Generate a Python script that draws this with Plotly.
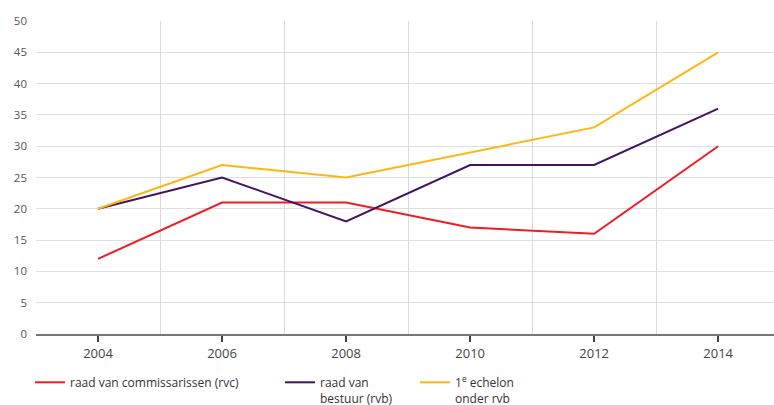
import plotly.graph_objects as go

years = [2004, 2006, 2008, 2010, 2012, 2014]
rvc = [12, 21, 21, 17, 16, 30]
rvb = [20, 25, 18, 27, 27, 36]
echelon = [20, 27, 25, 29, 33, 45]
names = ["raad van commissarissen (rvc)", "raad van<br>bestuur (rvb)", "1<sup>e</sup> echelon<br>onder rvb"]
colors = ["#EE1C25", "#42145F", "#FFB612"]
yticks = list(range(0, 51, 5))
odd_years = [2003, 2005, 2007, 2009, 2011, 2013]

fig = go.Figure()
for i, (vals, legend) in enumerate(zip([rvc, rvb, echelon], ["legend", "legend2", "legend3"])):
    fig.add_trace(go.Scatter(x=years, y=vals, mode="lines", name=names[i],
                             line=dict(color=colors[i], width=2), legend=legend))

font = dict(family="Open Sans", size=12, color="#444")
leg_common = dict(xref="container", yref="container", xanchor="left", yanchor="top",
                  font=dict(family="Open Sans", size=12, color="#333"),
                  bgcolor="rgba(0,0,0,0)", valign="top", itemwidth=30)

fig.update_layout(
    width=774, height=405, autosize=False,
    margin=dict(l=36, r=0, t=21, b=71, autoexpand=False),
    plot_bgcolor="white", paper_bgcolor="white",
    font=font,
    xaxis=dict(range=[2003, 2014.9], tickvals=years, ticktext=[str(y) for y in years],
               showgrid=False, zeroline=False, showline=True, linecolor="#777", linewidth=2,
               ticks="outside", ticklen=6, tickcolor="#444", tickwidth=1.5, automargin=False,
               minor=dict(tickvals=odd_years, showgrid=True, gridcolor="#d9d9d9", gridwidth=1, ticks=""),
               tickfont=dict(family="Open Sans", size=13, color="#444")),
    yaxis=dict(range=[0, 50], tickvals=yticks, showgrid=True, gridcolor="#dedede", gridwidth=1,
               zeroline=False, ticks="", ticklabelstandoff=8, automargin=False,
               tickfont=dict(family="Open Sans", size=11.5, color="#555")),
    legend=dict(x=30/774, y=1-368/405, **leg_common),
    legend2=dict(x=280/774, y=1-368/405, **leg_common),
    legend3=dict(x=415/774, y=1-368/405, **leg_common),
    showlegend=True,
)

fig.write_html("out.html")
